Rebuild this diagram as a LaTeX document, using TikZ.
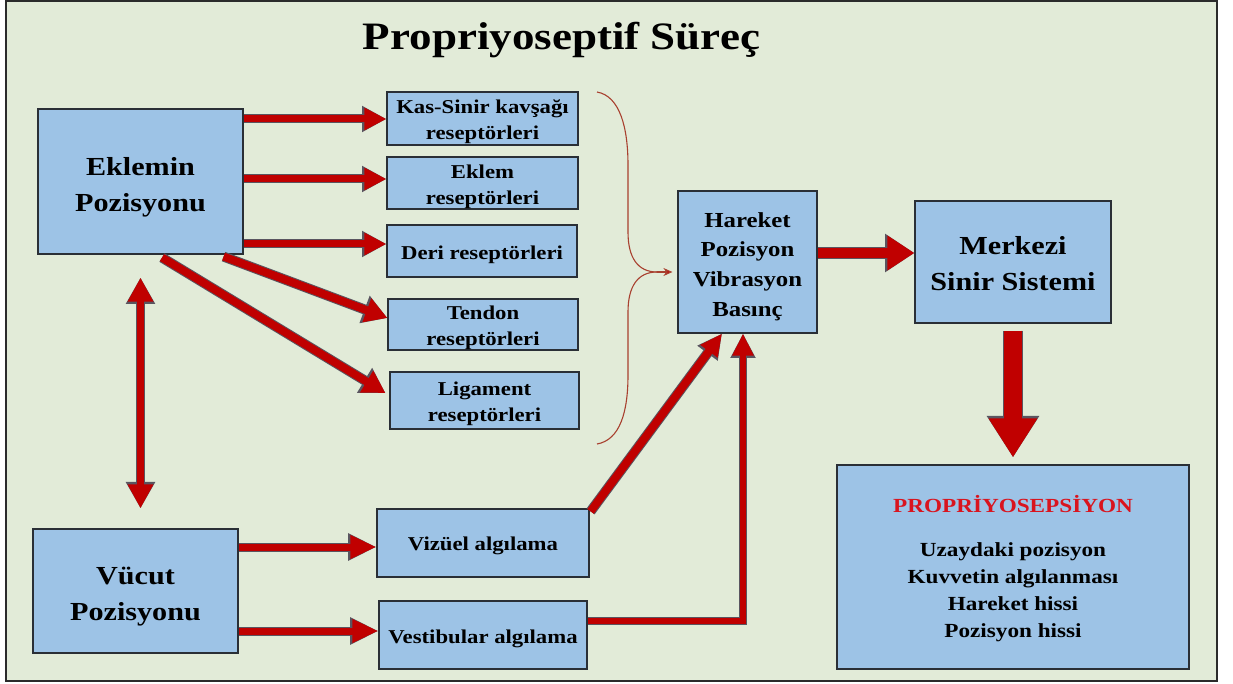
\documentclass[tikz,border=0pt]{standalone}
\usepackage{fontspec}
\setmainfont{Liberation Serif}[FakeStretch=1.16]
\usetikzlibrary{arrows.meta,calc}
\definecolor{bggreen}{HTML}{E2EBD8}
\definecolor{boxblue}{HTML}{9DC3E6}
\definecolor{boxline}{HTML}{2A2F36}
\definecolor{arrred}{HTML}{C00000}
\definecolor{arrline}{HTML}{5A5560}
\definecolor{bracecol}{HTML}{A8402F}
\definecolor{propred}{HTML}{D9141E}
\definecolor{framecol}{HTML}{2B2B2B}
\tikzset{
  box/.style={draw=boxline, fill=boxblue, line width=0.6pt, inner sep=0pt},
  tsmall/.style={align=center, inner sep=0pt, font=\bfseries\fontsize{9.8}{13}\selectfont},
  tbig/.style={align=center, inner sep=0pt, font=\bfseries\fontsize{13}{18}\selectfont},
  tmid/.style={align=center, inner sep=0pt, font=\bfseries\fontsize{10.7}{14.8}\selectfont},
  tprop/.style={align=center, inner sep=0pt, font=\bfseries\fontsize{10}{13.5}\selectfont},
  fat/.code args={#1/#2/#3}{%
    \pgfmathsetmacro\fatwA{#1+1}\pgfmathsetmacro\fatwB{#2+1.8}\pgfmathsetmacro\fatwC{#3+1.2}%
    \tikzset{line width=#1pt, draw=arrred, -{Triangle[width=#2pt,length=#3pt]},
      preaction={draw=arrline, line width=\fatwA pt, -{Triangle[width=\fatwB pt,length=\fatwC pt]}}}%
  },
  fatboth/.code args={#1/#2/#3}{%
    \pgfmathsetmacro\fatwA{#1+1}\pgfmathsetmacro\fatwB{#2+1.8}\pgfmathsetmacro\fatwC{#3+1.2}%
    \tikzset{line width=#1pt, draw=arrred, {Triangle[width=#2pt,length=#3pt]}-{Triangle[width=#2pt,length=#3pt]},
      preaction={draw=arrline, line width=\fatwA pt, {Triangle[width=\fatwB pt,length=\fatwC pt]}-{Triangle[width=\fatwB pt,length=\fatwC pt]}}}%
  },
  bracepath/.style={draw=bracecol, line width=0.55pt},
}
\begin{document}
\begin{tikzpicture}[x=0.5pt, y=-0.5pt]
\useasboundingbox (0,0) rectangle (1233,684);
\fill[white] (0,0) rectangle (1233,684);
\draw[line width=0.9pt, draw=framecol, fill=bggreen] (6,1) rectangle (1217,681);

\node[font=\bfseries\fontsize{19.4}{24}\selectfont, anchor=base] (title) at (561.5,50) {Propriyoseptif Süreç};

% boxes
\node[box, minimum width=102.5pt, minimum height=72.5pt,
  label={[tbig, yshift=-2.7pt]center:{Eklemin\\Pozisyonu}}] (ek) at (140.5,181.5) {};
\node[box, minimum width=95.5pt, minimum height=26.5pt,
  label={[tsmall, yshift=-1.7pt]center:{Kas-Sinir kavşağı\\reseptörleri}}] (kas) at (482.5,118.5) {};
\node[box, minimum width=95.5pt, minimum height=26pt,
  label={[tsmall, yshift=-1.7pt]center:{Eklem\\reseptörleri}}] (eklem) at (482.5,183) {};
\node[box, minimum width=95pt, minimum height=26pt,
  label={[tsmall, yshift=-1.75pt]center:{Deri reseptörleri}}] (deri) at (482,251) {};
\node[box, minimum width=95pt, minimum height=25.5pt,
  label={[tsmall, yshift=-1.7pt]center:{Tendon\\reseptörleri}}] (tendon) at (483,324.5) {};
\node[box, minimum width=94.5pt, minimum height=28.5pt,
  label={[tsmall, yshift=-1.5pt]center:{Ligament\\reseptörleri}}] (lig) at (484.5,400.5) {};
\node[box, minimum width=69.5pt, minimum height=71pt,
  label={[tmid, yshift=-2.2pt]center:{Hareket\\Pozisyon\\Vibrasyon\\Basınç}}] (har) at (747.5,262) {};
\node[box, minimum width=98pt, minimum height=61pt,
  label={[tbig, yshift=-1pt]center:{Merkezi\\Sinir Sistemi}}] (mss) at (1013,262) {};
\node[box, minimum width=176pt, minimum height=102pt,
  label={[tprop, yshift=-1pt]center:{\textcolor{propred}{PROPRİYOSEPSİYON}\\[8.5pt]Uzaydaki pozisyon\\Kuvvetin algılanması\\Hareket hissi\\Pozisyon hissi}}] (prop) at (1013,567) {};
\node[box, minimum width=102.5pt, minimum height=62pt,
  label={[tbig, yshift=-2.6pt]center:{Vücut\\Pozisyonu}}] (vuc) at (135.5,591) {};
\node[box, minimum width=106pt, minimum height=34pt,
  label={[tsmall, yshift=-1.5pt]center:{Vizüel algılama}}] (viz) at (483,543) {};
\node[box, minimum width=104pt, minimum height=34pt,
  label={[tsmall, yshift=-2pt]center:{Vestibular algılama}}] (vest) at (483,635) {};

% arrows from Eklemin Pozisyonu
\draw[fat=3.5/10.5/11] (ek.east |- 0,119) -- (kas.west |- 0,119);
\draw[fat=3.5/10.5/11] (ek.east |- 0,179) -- (eklem.west |- 0,179);
\draw[fat=3.5/10.5/11] (ek.east |- 0,244) -- (deri.west |- 0,244);
\draw[fat=4/12/11] ($(ek.south east)+(-20,2)$) -- ($(tendon.west)+(0,-6.5)$);
\draw[fat=4/12/11] ($(ek.south)+(21.5,3)$) -- ($(lig.west)+(-4,-7.5)$);
% double arrow
\draw[fatboth=3.2/12/12] ($(ek.south)+(0,23)$) -- ($(vuc.north)+(5,-20)$);
% arrows from Vucut Pozisyonu
\draw[fat=3.5/11/13] (vuc.east |- 0,547) -- (viz.west |- 0,547);
\draw[fat=3.5/11/13] (vuc.east |- 0,631) -- (vest.west |- 0,631);
% to Hareket box
\draw[fat=4/10/11] ($(viz.north east)+(1,3)$) -- (har.south -| 722,0);
\draw[fat=3/10/11, line join=miter] (vest.east |- 0,621) -| (har.south -| 743,0);
% to Merkezi
\draw[fat=5/16.5/13.5] (har.east |- 0,253) -- (mss.west |- 0,253);
% to Propriyosepsiyon
\draw[fat=9/23/19.5] ($(mss.south)+(0,7)$) -- ($(prop.north)+(0,-7)$);

% brace
\coordinate (bmid) at (657,272);
\draw[bracepath] (597,92) .. controls (620,96) and (628,128) .. (628,165) -- (628,232)
  .. controls (628,258) and (638,272) .. (bmid);
\draw[bracepath] (597,444) .. controls (620,440) and (628,412) .. (628,375) -- (628,312)
  .. controls (628,286) and (638,272) .. (bmid);
\draw[bracepath, -{Stealth[width=4pt,length=4.5pt,fill=arrred]}] (bmid) -- ($(har.west)+(-5,10)$);
\end{tikzpicture}
\end{document}
